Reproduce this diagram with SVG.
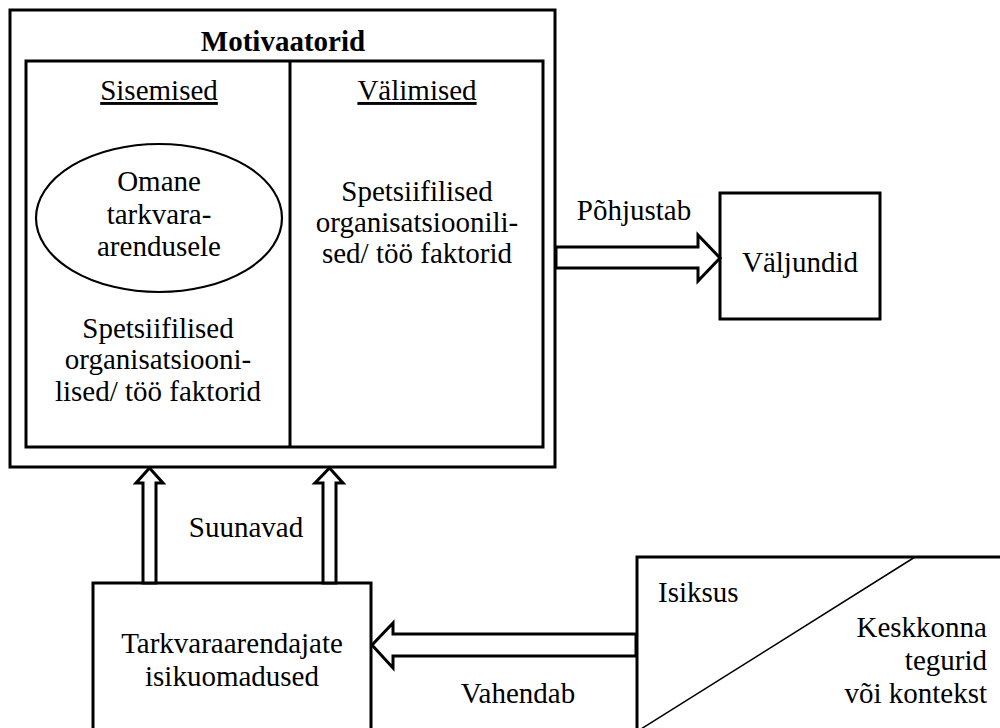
<svg xmlns="http://www.w3.org/2000/svg" width="1000" height="728" viewBox="0 0 1000 728">
<style>
text{font-family:'Liberation Serif','Times New Roman',Times,'DejaVu Serif',serif;font-size:29px;fill:#000}
.c{text-anchor:middle}
.r{text-anchor:end}
.b{font-weight:bold}
.u{text-decoration:underline}
.box{fill:#fff;stroke:#000;stroke-width:3}
.arr{fill:#fff;stroke:#000;stroke-width:3;stroke-linejoin:miter}
.thin{stroke:#000;stroke-width:1.5;fill:none}
</style>
<rect width="1000" height="728" fill="#fff"/>
<g font-family="Liberation Serif, serif">
<g id="motivaatorid">
<rect class="box" x="10" y="10" width="545" height="457"/>
<text class="c b" x="283" y="51">Motivaatorid</text>
<rect class="box" x="26" y="61" width="517" height="386"/>
<line x1="290" y1="61" x2="290" y2="447" stroke="#000" stroke-width="3"/>
</g>
<g id="sisemised">
<text class="c u" x="159" y="100">Sisemised</text>
<ellipse cx="159" cy="218" rx="123" ry="74" fill="#fff" stroke="#000" stroke-width="2.2"/>
<text class="c" x="159" y="191">Omane</text>
<text class="c" x="159" y="224">tarkvara-</text>
<text class="c" x="159" y="256">arendusele</text>
<text class="c" x="158" y="338">Spetsiifilised</text>
<text class="c" x="158" y="369">organisatsiooni-</text>
<text class="c" x="158" y="401">lised/ töö faktorid</text>
</g>
<g id="valimised">
<text class="c u" x="417" y="100">Välimised</text>
<text class="c" x="417" y="201">Spetsiifilised</text>
<text class="c" x="417" y="232">organisatsioonili-</text>
<text class="c" x="417" y="263">sed/ töö faktorid</text>
</g>
<g id="valjundid">
<rect class="box" x="720" y="193" width="160" height="126"/>
<text class="c" x="800" y="272">Väljundid</text>
</g>
<g id="tarkvaraarendajate">
<rect class="box" x="93" y="583" width="278" height="160"/>
<text class="c" x="232" y="653">Tarkvaraarendajate</text>
<text class="c" x="232" y="686">isikuomadused</text>
</g>
<g id="isiksus">
<rect class="box" x="637" y="557" width="380" height="190"/>
<line class="thin" x1="915" y1="557" x2="641" y2="729"/>
<text x="658" y="602">Isiksus</text>
<text class="r" x="987" y="637">Keskkonna</text>
<text class="r" x="987" y="670">tegurid</text>
<text class="r" x="987" y="703">või kontekst</text>
</g>
<g id="connectors">
<polygon class="arr" points="556,247 698,247 698,235 720,258 698,281 698,268 556,268"/>
<text class="c" x="634" y="220">Põhjustab</text>
<polygon class="arr" points="143,583 143,483 136,483 149.5,468 163,483 156,483 156,583"/>
<polygon class="arr" points="323,583 323,483 315,483 329.5,468 343,483 336,483 336,583"/>
<text class="c" x="246" y="537">Suunavad</text>
<polygon class="arr" points="636,634 393,634 393,623 372,645 393,668 393,656 636,656"/>
<text class="c" x="518" y="703">Vahendab</text>
</g>
</g>
</svg>
